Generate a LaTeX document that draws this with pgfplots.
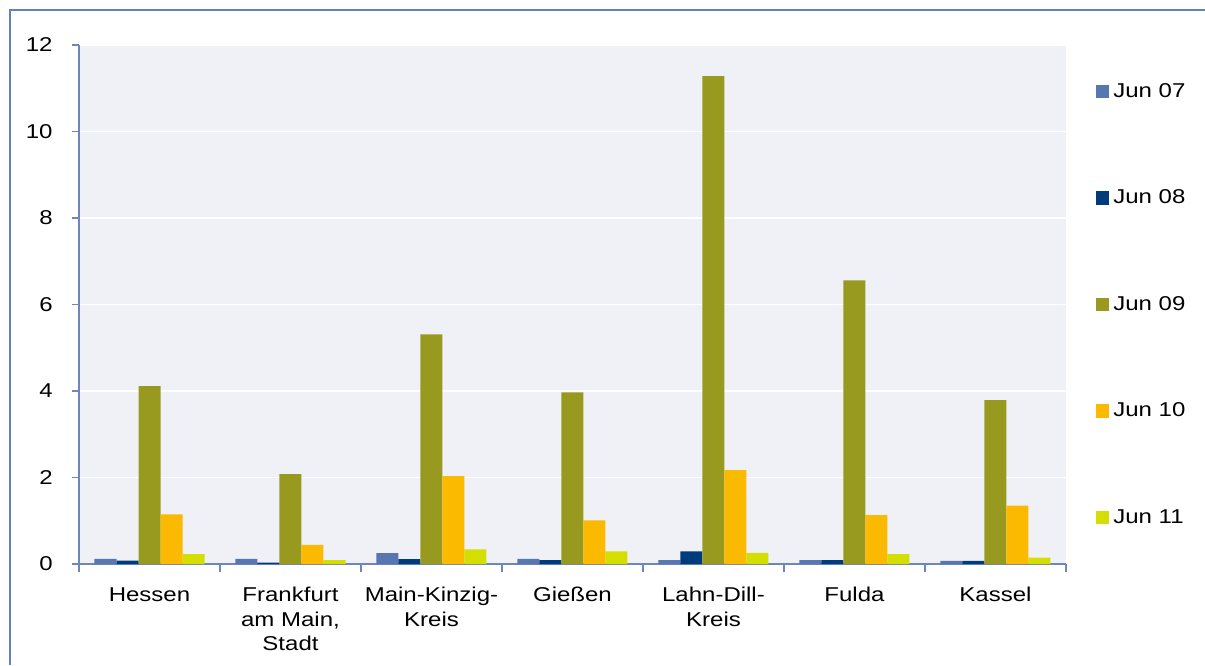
\documentclass[border=0pt]{standalone}
\usepackage{fontspec}
\setmainfont{Liberation Sans}[FakeStretch=1.2]
\usepackage{pgfplots}
\usepackage{pgfplotstable}
\pgfplotsset{compat=1.18}

\definecolor{cJunA}{RGB}{88,118,176}
\definecolor{cJunB}{RGB}{0,60,124}
\definecolor{cJunC}{RGB}{152,154,32}
\definecolor{cJunD}{RGB}{251,185,0}
\definecolor{cJunE}{RGB}{212,222,0}
\definecolor{plotbg}{RGB}{240,241,247}
\definecolor{axiscol}{RGB}{110,134,184}
\definecolor{framecol}{RGB}{100,128,188}

\newcommand{\chartfont}{\fontsize{10}{12.25}\selectfont}

% region, Jun 07 ... Jun 11
\pgfplotstableread{
x a b c d e
0 0.12 0.08 4.11 1.15 0.23
1 0.12 0.03 2.08 0.44 0.09
2 0.25 0.11 5.31 2.03 0.34
3 0.12 0.09 3.97 1.01 0.29
4 0.09 0.29 11.28 2.17 0.26
5 0.09 0.09 6.56 1.13 0.23
6 0.07 0.07 3.79 1.35 0.15
}\datatable

\begin{document}
\begin{tikzpicture}
\fill[white] (0,0) rectangle (602.5pt,332.5pt);
\useasboundingbox (0,0) rectangle (602.5pt,332.5pt);
\begin{axis}[
  scale only axis,
  width=493.5pt, height=259.5pt,
  at={(39.5pt,50.5pt)}, anchor=south west,
  ybar=0pt, bar width=11pt,
  xmin=-0.5, xmax=6.5, ymin=0, ymax=12,
  xtick={0,...,6},
  xticklabels={Hessen,{Frankfurt\\am Main,\\Stadt},{Main-Kinzig-\\Kreis},Gießen,{Lahn-Dill-\\Kreis},Fulda,Kassel},
  minor xtick={-0.5,0.5,...,6.5},
  ytick={0,2,...,12},
  axis x line*=bottom, axis y line*=left,
  axis line style={axiscol, line width=0.8pt},
  tick align=outside,
  major tick length=3.5pt, minor tick length=4pt,
  xtick style={draw=none},
  minor x tick style={axiscol, line width=0.8pt, draw=axiscol},
  ytick style={axiscol, line width=0.8pt},
  ymajorgrids, grid style={white, line width=0.8pt},
  axis background/.style={fill=plotbg},
  /pgf/number format/assume math mode=true,
  tick label style={font=\chartfont, text=black, inner sep=0pt},
  xticklabel style={align=center, anchor=north, yshift=-8pt},
  yticklabel style={anchor=east, xshift=-9.5pt},
  legend cell align=left,
  legend image code/.code={\fill[#1] (0pt,-3.4pt) rectangle (6.5pt,3.4pt);},
  legend style={at={(1.0304,0.9306)}, anchor=north west, draw=none, fill=none,
    inner sep=0pt, row sep=43.25pt, column sep=2pt,
    nodes={inner sep=0pt, text height=8pt, text depth=2pt, font=\chartfont}},
]
\addplot[fill=cJunA, draw=none] table[x=x, y=a] {\datatable};
\addlegendentry{Jun 07}
\addplot[fill=cJunB, draw=none] table[x=x, y=b] {\datatable};
\addlegendentry{Jun 08}
\addplot[fill=cJunC, draw=none] table[x=x, y=c] {\datatable};
\addlegendentry{Jun 09}
\addplot[fill=cJunD, draw=none] table[x=x, y=d] {\datatable};
\addlegendentry{Jun 10}
\addplot[fill=cJunE, draw=none] table[x=x, y=e] {\datatable};
\addlegendentry{Jun 11}
\end{axis}
% outer chart frame (left and top edges)
\draw[framecol, line width=0.7pt] (5pt,0pt) -- (5pt,327.5pt) -- (602.5pt,327.5pt);
\end{tikzpicture}
\end{document}
